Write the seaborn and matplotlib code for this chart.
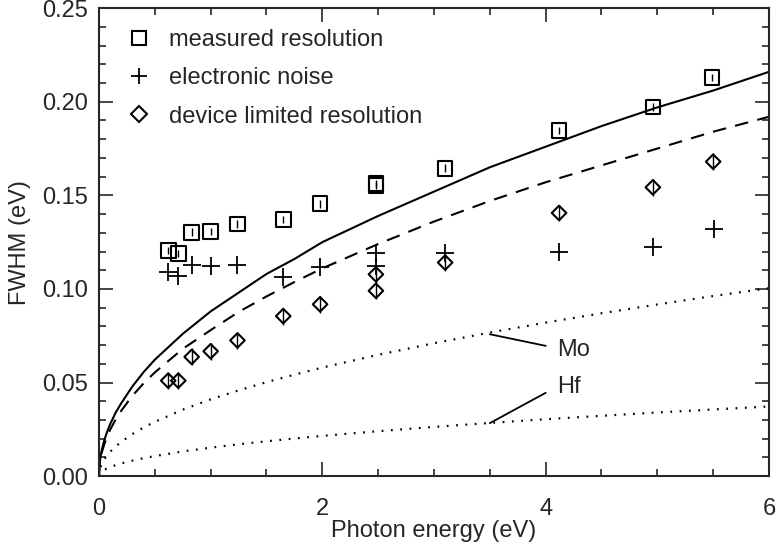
import matplotlib
matplotlib.use("Agg")
import matplotlib.pyplot as plt
import seaborn as sns
import pandas as pd
from matplotlib.lines import Line2D
from matplotlib.ticker import MultipleLocator

# ---- data ----
meas_E = [0.62, 0.71, 0.83, 1.00, 1.24, 1.65, 1.98, 2.48, 2.48, 3.10, 4.12, 4.96, 5.49]
meas_W = [0.1205, 0.119, 0.1303, 0.1308, 0.1347, 0.1371, 0.1455, 0.1562, 0.1552, 0.1645, 0.1846, 0.1973, 0.2130]

noise_E = [0.62, 0.71, 0.83, 1.00, 1.24, 1.65, 1.98, 2.48, 2.48, 3.10, 4.12, 4.96, 5.51]
noise_W = [0.1088, 0.1071, 0.1127, 0.1122, 0.1127, 0.1063, 0.1117, 0.119, 0.1122, 0.119, 0.1198, 0.1225, 0.1318]

dev_E = [0.62, 0.71, 0.83, 1.00, 1.24, 1.65, 1.98, 2.48, 2.48, 3.10, 4.12, 4.96, 5.50]
dev_W = [0.051, 0.051, 0.0637, 0.0667, 0.0725, 0.0855, 0.0918, 0.1078, 0.099, 0.1141, 0.1406, 0.1543, 0.168]

curve_E = [0, 0.005, 0.01, 0.02, 0.03, 0.05, 0.075, 0.1, 0.15, 0.2, 0.3, 0.4, 0.5, 0.75,
           1.0, 1.25, 1.5, 1.75, 2.0, 2.5, 3.0, 3.5, 4.0, 4.5, 5.0, 5.5, 6.0]
total_W = [0.0, 0.0062, 0.0088, 0.0125, 0.0152, 0.0197, 0.024, 0.0278, 0.034, 0.039, 0.048,
           0.0556, 0.0622, 0.076, 0.088, 0.098, 0.108, 0.116, 0.125, 0.139, 0.152, 0.165,
           0.176, 0.187, 0.197, 0.206, 0.216]
device_W = [0.0, 0.0055, 0.0078, 0.011, 0.0136, 0.0175, 0.0215, 0.0248, 0.0304, 0.035, 0.043,
            0.0496, 0.0554, 0.068, 0.078, 0.0877, 0.096, 0.1037, 0.111, 0.124, 0.136, 0.147,
            0.157, 0.166, 0.175, 0.184, 0.192]
mo_W = [0.0, 0.0029, 0.0041, 0.0058, 0.0071, 0.0092, 0.0112, 0.013, 0.0159, 0.0183, 0.0225,
        0.026, 0.029, 0.0355, 0.041, 0.0458, 0.0502, 0.0542, 0.058, 0.0648, 0.071, 0.0767,
        0.082, 0.087, 0.0917, 0.0962, 0.1004]
hf_W = [0.0, 0.0011, 0.0015, 0.0021, 0.0026, 0.0034, 0.0042, 0.0048, 0.0059, 0.0068, 0.0083,
        0.0096, 0.0107, 0.0132, 0.0152, 0.017, 0.0186, 0.0201, 0.0215, 0.024, 0.0263, 0.0284,
        0.0304, 0.0322, 0.034, 0.0356, 0.0372]

legend_labels = ["measured resolution", "electronic noise", "device limited resolution"]

FS = 17

# ---- style ----
sns.set_style("ticks")
plt.rcParams['font.family'] = ['Liberation Sans', 'DejaVu Sans']
plt.rcParams['font.size'] = FS

fig = plt.figure(figsize=(7.77, 5.46), dpi=100)
ax = fig.add_axes([0.1274, 0.128, 0.8623, 0.857])

curves = pd.DataFrame({"E": curve_E, "total": total_W, "device": device_W,
                       "Mo": mo_W, "Hf": hf_W})

sns.lineplot(data=curves, x="E", y="total", ax=ax, color="black", lw=1.5, sort=False)
sns.lineplot(data=curves, x="E", y="device", ax=ax, color="black", lw=1.5,
             linestyle=(0, (6.5, 4.5)), sort=False)
sns.lineplot(data=curves, x="E", y="Mo", ax=ax, color="black", lw=1.6,
             linestyle=(0, (0.8, 3.4)), sort=False)
sns.lineplot(data=curves, x="E", y="Hf", ax=ax, color="black", lw=1.6,
             linestyle=(0, (0.8, 3.4)), sort=False)

# error ticks inside markers
ax.errorbar(meas_E, meas_W, yerr=0.002, fmt="none", ecolor="black", elinewidth=1.0)
ax.errorbar(dev_E, dev_W, yerr=0.0045, fmt="none", ecolor="black", elinewidth=1.0)

meas_df = pd.DataFrame({"E": meas_E, "W": meas_W})
noise_df = pd.DataFrame({"E": noise_E, "W": noise_W})
dev_df = pd.DataFrame({"E": dev_E, "W": dev_W})

sns.scatterplot(data=meas_df, x="E", y="W", ax=ax, marker="s", s=110,
                facecolor="none", edgecolor="black", linewidth=1.5)
sns.scatterplot(data=noise_df, x="E", y="W", ax=ax, marker="+", s=150,
                color="black", linewidth=1.3)
sns.scatterplot(data=dev_df, x="E", y="W", ax=ax, marker="D", s=55,
                facecolor="none", edgecolor="black", linewidth=1.5)

# annotations
ax.plot([3.5, 4.0], [0.0758, 0.0696], color="black", lw=1.3)
ax.text(4.1, 0.0673, "Mo", ha="left", va="center", fontsize=FS)
ax.plot([3.5, 4.0], [0.0283, 0.0445], color="black", lw=1.3)
ax.text(4.1, 0.0478, "Hf", ha="left", va="center", fontsize=FS)

# legend
handles = [
    Line2D([], [], marker="s", ls="none", mfc="none", mec="black", ms=10.5, mew=1.5),
    Line2D([], [], marker="+", ls="none", color="black", ms=12, mew=1.3),
    Line2D([], [], marker="D", ls="none", mfc="none", mec="black", ms=8, mew=1.5),
]
ax.legend(handles, legend_labels, loc="upper left", frameon=False, fontsize=FS,
          handlelength=1.0, handletextpad=0.75, labelspacing=0.68,
          bbox_to_anchor=(0.018, 0.99), borderaxespad=0.3)

ax.set_xlim(0, 6)
ax.set_ylim(0, 0.25)
ax.xaxis.set_major_locator(MultipleLocator(2))
ax.xaxis.set_minor_locator(MultipleLocator(0.5))
ax.yaxis.set_major_locator(MultipleLocator(0.05))
ax.yaxis.set_minor_locator(MultipleLocator(0.01))
ax.set_yticklabels([f"{v:.2f}" for v in ax.get_yticks()])
ax.tick_params(which="both", direction="in", top=True, right=True, width=1.2)
ax.tick_params(which="major", length=10, labelsize=FS)
ax.tick_params(axis="x", which="major", pad=16)
ax.tick_params(axis="y", which="major", pad=8)
ax.tick_params(which="minor", length=5)
for sp in ax.spines.values():
    sp.set_linewidth(1.5)
    sp.set_visible(True)

ax.set_xlabel("Photon energy (eV)", fontsize=FS, labelpad=0)
ax.set_ylabel("FWHM (eV)", fontsize=FS, labelpad=8)

fig.savefig("out.png", dpi=100)
